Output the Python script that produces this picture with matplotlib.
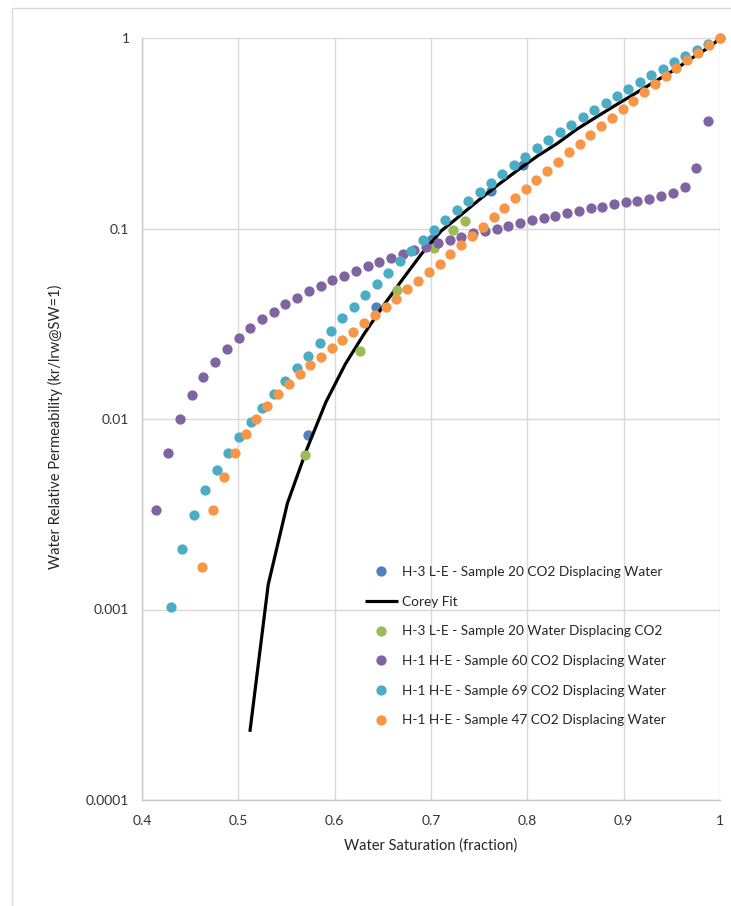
import matplotlib
matplotlib.use("Agg")
import matplotlib.pyplot as plt
from matplotlib.patches import Rectangle

plt.rcParams['font.family'] = ['Lato', 'DejaVu Sans']

# H-3 L-E sample 20, CO2 displacing water
s20_co2_sw = [0.5726, 0.6432, 0.7007, 0.7620, 0.7958]
s20_co2_kr = [0.00827, 0.0389, 0.0881, 0.158, 0.215]

# Corey fit
corey_sw = [0.512, 0.531, 0.551, 0.571, 0.591, 0.611, 0.631, 0.651, 0.671, 0.691,
            0.711, 0.731, 0.751, 0.771, 0.791, 0.811, 0.831, 0.851, 0.871, 0.891,
            0.911, 0.931, 0.951, 0.971, 0.991, 1.0]
corey_kr = [0.000228, 0.00135, 0.00362, 0.00692, 0.0123, 0.0194, 0.0282, 0.0396, 0.0546, 0.0745,
            0.0975, 0.1177, 0.1429, 0.1716, 0.2042, 0.2411, 0.2794, 0.331, 0.383, 0.442,
            0.508, 0.585, 0.672, 0.785, 0.91, 1.0]

# H-3 L-E sample 20, water displacing CO2
s20_wat_sw = [0.5692, 0.6260, 0.6647, 0.7031, 0.7232, 0.7356]
s20_wat_kr = [0.0065, 0.0228, 0.0476, 0.0793, 0.0986, 0.110]

# H-1 H-E sample 60
s60_sw = [0.4145, 0.4270, 0.4394, 0.4519, 0.4633, 0.4758, 0.4882, 0.5007, 0.5121, 0.5246,
          0.5370, 0.5484, 0.5609, 0.5734, 0.5858, 0.5972, 0.6097, 0.6222, 0.6346, 0.6460,
          0.6585, 0.6709, 0.6824, 0.6948, 0.7073, 0.7197, 0.7312, 0.7436, 0.7561, 0.7685,
          0.7799, 0.7924, 0.8049, 0.8173, 0.8287, 0.8412, 0.8536, 0.8661, 0.8775, 0.8900,
          0.9024, 0.9139, 0.9263, 0.9388, 0.9512, 0.9637, 0.9751, 0.9876]
s60_kr = [0.00333, 0.00665, 0.0100, 0.0133, 0.0166, 0.0200, 0.0233, 0.0266, 0.0300, 0.0333,
          0.0365, 0.0400, 0.0433, 0.0468, 0.0501, 0.0535, 0.0565, 0.0600, 0.0633, 0.0667,
          0.0700, 0.0738, 0.0771, 0.0800, 0.0836, 0.0870, 0.0906, 0.0944, 0.0967, 0.0998,
          0.1031, 0.1073, 0.1104, 0.1135, 0.1167, 0.1206, 0.1240, 0.1277, 0.1302, 0.1340,
          0.1373, 0.1400, 0.1433, 0.1476, 0.1530, 0.1657, 0.2078, 0.368]

# H-1 H-E sample 69
s69_sw = [0.4301, 0.4415, 0.4537, 0.4657, 0.4775, 0.4893, 0.5010, 0.5132, 0.5249, 0.5367,
          0.5488, 0.5609, 0.5726, 0.5845, 0.5962, 0.6079, 0.6201, 0.6318, 0.6440, 0.6557,
          0.6678, 0.6796, 0.6914, 0.7031, 0.7149, 0.7267, 0.7387, 0.7506, 0.7623, 0.7740,
          0.7862, 0.7979, 0.8097, 0.8218, 0.8339, 0.8457, 0.8575, 0.8692, 0.8814, 0.8931,
          0.9048, 0.9167, 0.9287, 0.9405, 0.9523, 0.9640, 0.9758, 0.9876, 1.0]
s69_kr = [0.00103, 0.00208, 0.00313, 0.00424, 0.00542, 0.00665, 0.00807, 0.00965, 0.0114, 0.0135,
          0.0158, 0.0185, 0.0215, 0.0252, 0.0291, 0.0338, 0.0389, 0.0446, 0.0513, 0.0586,
          0.0673, 0.0765, 0.0867, 0.0979, 0.1104, 0.1246, 0.1394, 0.1560, 0.1739, 0.1940,
          0.2154, 0.2381, 0.2646, 0.2904, 0.3199, 0.3506, 0.3848, 0.4203, 0.4574, 0.4979,
          0.5418, 0.5875, 0.6371, 0.6903, 0.7482, 0.8074, 0.8682, 0.9301, 1.0]

# H-1 H-E sample 47
s47_sw = [0.4626, 0.4740, 0.4851, 0.4962, 0.5077, 0.5187, 0.5295, 0.5409, 0.5523, 0.5637,
          0.5747, 0.5855, 0.5969, 0.6079, 0.6194, 0.6308, 0.6419, 0.6530, 0.6640, 0.6751,
          0.6868, 0.6979, 0.7090, 0.7200, 0.7312, 0.7426, 0.7537, 0.7651, 0.7761, 0.7872,
          0.7983, 0.8093, 0.8204, 0.8319, 0.8430, 0.8544, 0.8654, 0.8765, 0.8876, 0.8990,
          0.9100, 0.9214, 0.9325, 0.9437, 0.9547, 0.9658, 0.9772, 0.9883, 1.0]
s47_kr = [0.00167, 0.00332, 0.00498, 0.00665, 0.00834, 0.0100, 0.0117, 0.0135, 0.0153, 0.0172,
          0.0191, 0.0212, 0.0235, 0.0261, 0.0287, 0.0318, 0.0351, 0.0388, 0.0429, 0.0480,
          0.0532, 0.0589, 0.0653, 0.0732, 0.0819, 0.0917, 0.1022, 0.1145, 0.1286, 0.1440,
          0.1612, 0.1797, 0.2011, 0.2242, 0.2512, 0.2787, 0.3107, 0.3451, 0.3816, 0.4239,
          0.4688, 0.5188, 0.5735, 0.6318, 0.6960, 0.7637, 0.8342, 0.9156, 1.0]

x_ticks = [0.4, 0.5, 0.6, 0.7, 0.8, 0.9, 1.0]
y_ticks = [0.0001, 0.001, 0.01, 0.1, 1]

fig = plt.figure(figsize=(7.31, 9.06), dpi=100)
# chart area border
fig.patches.append(Rectangle((12 / 731, -0.05), 1.2, 1 - 8 / 906 + 0.05,
                             transform=fig.transFigure, fill=False,
                             edgecolor='#d9d9d9', linewidth=1.0))
ax = fig.add_axes([142 / 731, 1 - 800 / 906, 578 / 731, 762 / 906])

ms = 7.4
ax.plot(s20_co2_sw, s20_co2_kr, 'o', color='#4F81BD', ms=ms, mec='none', clip_on=False,
        label='H-3 L-E - Sample 20 CO2 Displacing Water')
ax.plot(corey_sw, corey_kr, '-', color='black', lw=2.3, solid_capstyle='butt',
        label='Corey Fit')
ax.plot(s20_wat_sw, s20_wat_kr, 'o', color='#9BBB59', ms=ms, mec='none', clip_on=False,
        label='H-3 L-E - Sample 20 Water Displacing CO2')
ax.plot(s60_sw, s60_kr, 'o', color='#8064A2', ms=ms, mec='none', clip_on=False,
        label='H-1 H-E - Sample 60 CO2 Displacing Water')
ax.plot(s69_sw, s69_kr, 'o', color='#4BACC6', ms=ms, mec='none', clip_on=False,
        label='H-1 H-E - Sample 69 CO2 Displacing Water')
ax.plot(s47_sw, s47_kr, 'o', color='#F79646', ms=ms, mec='none', clip_on=False,
        label='H-1 H-E - Sample 47 CO2 Displacing Water')

ax.set_yscale('log')
ax.set_xlim(0.4, 1.0)
ax.set_ylim(0.0001, 1)
ax.set_xticks(x_ticks)
ax.set_xticklabels(['{:g}'.format(v) for v in x_ticks])
ax.set_yticks(y_ticks)
ax.set_yticklabels(['{:g}'.format(v) for v in y_ticks])
ax.minorticks_off()
ax.tick_params(length=0, labelsize=10, colors='#333333')
ax.tick_params(axis='x', pad=11)
ax.tick_params(axis='y', pad=9)

ax.grid(True, color='#d9d9d9', linewidth=1.0)
ax.set_axisbelow(True)
for side in ['top', 'right']:
    ax.spines[side].set_visible(False)
for side in ['left', 'bottom']:
    ax.spines[side].set_color('#c8c8c8')
    ax.spines[side].set_linewidth(1.0)

ax.set_xlabel('Water Saturation (fraction)', fontsize=10.5, color='#262626')
ax.set_ylabel('Water Relative Permeability (kr/lrw@SW=1)', fontsize=10.5, color='#262626')
ax.xaxis.set_label_coords(0.5, -0.051)
ax.yaxis.set_label_coords(-0.137, 0.49)

ax.legend(loc='upper left', bbox_to_anchor=((365 - 142) / 578, (800 - 566) / 762),
          frameon=False, fontsize=9.8, handlelength=2.4, handletextpad=0.35,
          labelspacing=1.3, borderpad=0, borderaxespad=0, labelcolor='#262626')

fig.savefig('out.png', dpi=100)
